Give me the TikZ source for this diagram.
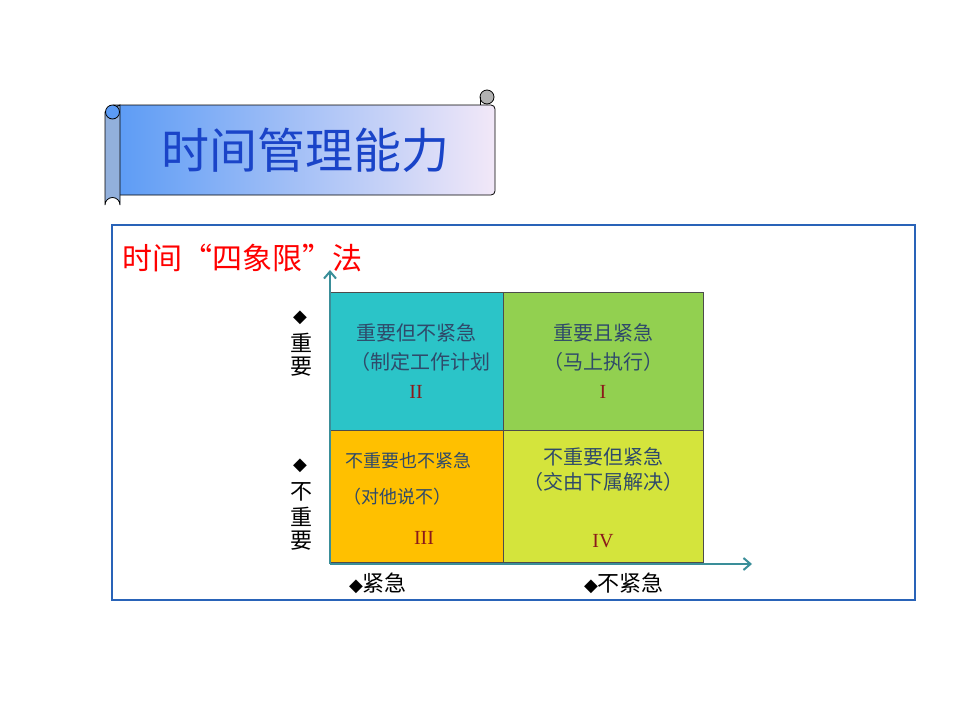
\documentclass[tikz,border=0pt]{standalone}
\usepackage{fontspec}
\newfontfamily\cjk{Noto Sans CJK SC}
\newfontfamily\symfont{DejaVu Sans}
\setmainfont{Liberation Serif}
\definecolor{titleblue}{HTML}{1A44C8}
\definecolor{quadtext}{HTML}{2F4A6A}
\definecolor{numred}{HTML}{8B1A1A}
\definecolor{axiscol}{HTML}{3A8E99}
\definecolor{qone}{HTML}{92D050}
\definecolor{qtwo}{HTML}{2BC4C8}
\definecolor{qthree}{HTML}{FFC000}
\definecolor{qfour}{HTML}{D4E43C}
\definecolor{rollL}{HTML}{5B9BF5}
\definecolor{rollR}{HTML}{F2E8F8}
\tikzset{
  quad/.style={draw=black!70, line width=0.8pt},
  qlabel/.style={font=\cjk\fontsize{20}{24}\selectfont, text=quadtext, inner sep=0pt},
  qnum/.style={font=\fontsize{20}{24}\selectfont, text=numred, inner sep=0pt},
  sidelabel/.style={font=\cjk\fontsize{22}{24}\selectfont, inner sep=0pt},
  axis/.style={draw=axiscol, line width=2pt, -{Straight Barb[length=7pt,width=12pt]}}
}
\usetikzlibrary{arrows.meta}
\begin{document}
\begin{tikzpicture}[x=1pt,y=-1pt]
  \useasboundingbox (0,0) rectangle (960,720);
  % scroll title
  \shade[left color=rollL, right color=rollR, rounded corners=4pt] (113,105) rectangle (495,195);
  \draw[black, line width=0.8pt, rounded corners=4pt] (113,105) -- (495,105) -- (495,195) -- (113,195);
  \draw[fill=rollL!80!black!60, line width=0.8pt] (105,112) -- (105,205) arc (180:360:7.5) -- (120,105) -- cycle;
  \draw[fill=rollL, line width=0.8pt] (112.5,112) circle (7);
  \draw[fill=gray!60, line width=0.8pt] (487,97) circle (7);
  \draw[line width=0.8pt] (480,97) -- (480,105);
  \node[font=\cjk\fontsize{48}{52}\selectfont, text=titleblue] (title) at (305,150) {时间管理能力};
  % frame
  \draw[draw=axiscol!70!blue, line width=1.2pt] (112,225) rectangle (915,600);
  \node[anchor=west, font=\cjk\fontsize{30}{34}\selectfont, text=red, inner sep=0pt] (sub) at (122,258) {时间“四象限”法};
  % quadrants
  \draw[quad, fill=qtwo] (330,292) rectangle (503,430);
  \draw[quad, fill=qone] (503,292) rectangle (703,430);
  \draw[quad, fill=qthree] (330,430) rectangle (503,562);
  \draw[quad, fill=qfour] (503,430) rectangle (703,562);
  \node[qlabel] (q2a) at (416,333) {重要但不紧急};
  \node[qlabel] (q2b) at (420,362) {（制定工作计划};
  \node[qnum] (q2n) at (416,392) {II};
  \node[qlabel] (q1a) at (603,333) {重要且紧急};
  \node[qlabel] (q1b) at (603,362) {（马上执行）};
  \node[qnum] (q1n) at (603,392) {I};
  \node[qlabel, font=\cjk\fontsize{18}{22}\selectfont] (q3a) at (408,461) {不重要也不紧急};
  \node[qlabel, font=\cjk\fontsize{18}{22}\selectfont] (q3b) at (397,497) {（对他说不）};
  \node[qnum] (q3n) at (424,538) {III};
  \node[qlabel] (q4a) at (603,457) {不重要但紧急};
  \node[qlabel] (q4b) at (603,482) {（交由下属解决）};
  \node[qnum] (q4n) at (603,541) {IV};
  % axes
  \coordinate (origin) at (330,564);
  \coordinate (ytip) at (330,270);
  \coordinate (xtip) at (752,564);
  \draw[axis] (origin) -- (ytip);
  \draw[axis] (origin) -- (xtip);
  % side labels
  \node[font=\symfont\fontsize{18}{20}\selectfont, inner sep=0pt] (d1) at (300,318) {◆};
  \node[sidelabel] (s1) at (301,343) {重};
  \node[sidelabel] (s2) at (301,367) {要};
  \node[font=\symfont\fontsize{18}{20}\selectfont, inner sep=0pt] (d2) at (300,466) {◆};
  \node[sidelabel] (s3) at (301,492) {不};
  \node[sidelabel] (s4) at (301,517) {重};
  \node[sidelabel] (s5) at (301,541) {要};
  \node[inner sep=0pt] (b1) at (378,583) {{\symfont\fontsize{18}{20}\selectfont ◆}{\cjk\fontsize{22}{24}\selectfont 紧急}};
  \node[inner sep=0pt] (b2) at (624,583) {{\symfont\fontsize{18}{20}\selectfont ◆}{\cjk\fontsize{22}{24}\selectfont 不紧急}};
\end{tikzpicture}
\end{document}
